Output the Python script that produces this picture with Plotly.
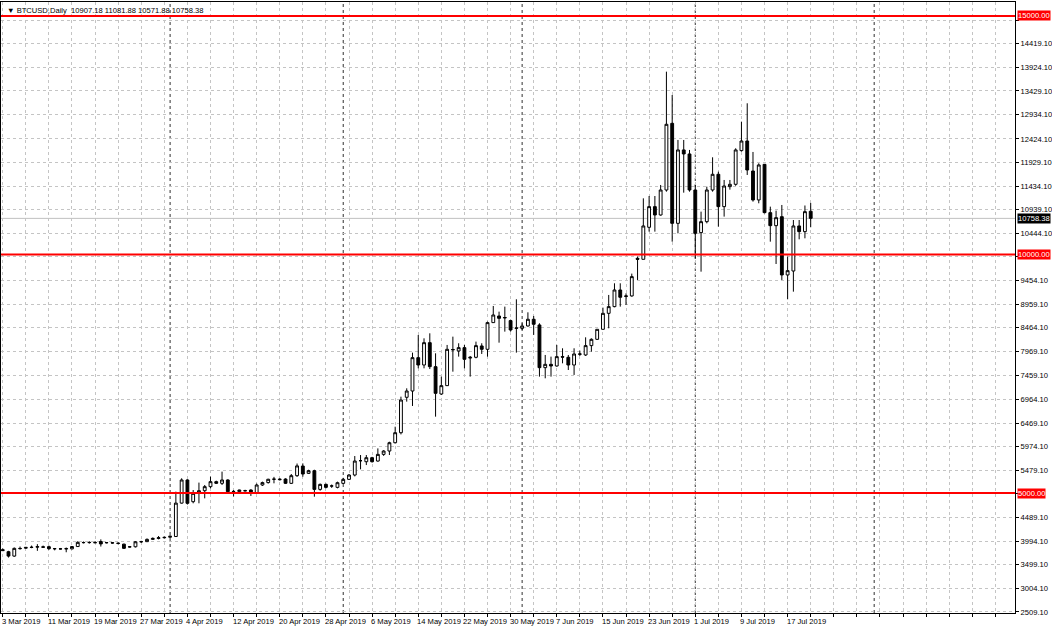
import plotly.graph_objects as go

opens = [3815,3772,3680,3835,3845,3860,3868,3874,3877,3836,3832,3830,3832,3880,3965,3962,3965,3985,3960,3960,3950,3930,3875,3875,3980,3982,4030,4050,4064,4075,
         4090,4790,5275,4820,4995,5050,5135,5240,5205,5275,5030,5030,5052,5065,4995,5170,5220,5290,5280,5295,5205,5365,5567,5414,5470,5078,5183,5148,5120,5204,
         5288,5379,5680,5658,5742,5672,5812,5882,6056,6266,7008,7140,7839,7685,8153,7650,7077,7252,8000,7979,8049,7830,7846,8084,8014,8573,8712,8670,8615,8454,
         8454,8503,8643,8524,7629,7699,7664,7860,7846,7685,7910,7895,8091,8223,8433,8768,8908,9257,9120,9132,9921,9900,10571,11004,10829,11353,12750,10654,12192,12108,
         11353,10459,10689,11353,11682,11004,11423,11472,12178,12380,11751,11144,11891,10878,10605,10794,9572,9655,10599,10480,10907.18]
highs = [3840,3790,3860,3880,3870,3900,3930,3900,3900,3850,3850,3860,3890,3990,3985,3990,3995,4030,3975,3975,3965,3940,3885,3995,4000,4050,4070,4100,4090,4110,
         5030,5310,5290,5065,5220,5170,5345,5260,5450,5290,5065,5070,5070,5080,5200,5240,5300,5340,5310,5310,5400,5620,5623,5490,5490,5200,5200,5180,5240,5320,
         5400,5777,5798,5798,5760,5937,5900,6077,6392,7021,7196,7944,8314,8244,8349,7930,7441,8105,8279,8140,8105,7874,8175,8140,8594,8922,8803,8908,8636,9062,
         8559,8789,8712,8559,7895,7860,8105,8035,7895,8035,7986,8265,8244,8433,8887,9153,9397,9397,9187,9600,9956,11178,11227,11227,11458,13833,13344,12401,12401,12192,
         11458,10899,11423,12038,11737,11563,11563,12227,12785,13170,12150,11912,11898,11004,10920,11039,9956,10724,10724,11028,11081.88]
lows = [3790,3650,3665,3815,3830,3845,3790,3850,3810,3800,3820,3760,3820,3870,3945,3940,3950,3880,3945,3940,3925,3830,3860,3860,3955,3975,4020,4030,4050,4060,
        4085,4780,4760,4786,4786,4890,5100,5190,5170,4995,4930,5010,5035,4940,4990,5150,5200,5205,5265,5190,5190,5340,5344,5400,4925,5050,5100,5110,5100,5190,
        5275,5350,5498,5588,5640,5658,5780,5798,6040,6230,6917,6826,7615,7615,7600,6602,7057,7245,7545,7860,7615,7441,7825,7916,7860,8573,8153,8384,8384,7944,
        8419,8489,8315,7441,7406,7441,7650,7720,7580,7476,7874,7874,7965,8210,8433,8454,8894,8908,8943,9117,9467,9900,10480,10480,10815,11318,10270,10445,11297,11318,
        9921,9641,10654,11318,10585,10795,11360,11441,12157,11668,11109,11074,10864,10270,9802,9467,9062,9222,10319,10340,10571.88]
closes = [3795,3680,3842,3840,3862,3865,3876,3866,3835,3834,3830,3836,3880,3968,3962,3966,3960,3935,3962,3955,3946,3842,3872,3980,3982,4030,4050,4064,4072,4095,
          4790,5275,4786,4995,5050,5135,5240,5205,5275,5030,5035,5065,5048,4995,5170,5220,5290,5292,5290,5205,5365,5570,5400,5470,5078,5183,5120,5150,5218,5288,
          5379,5672,5679,5742,5658,5812,5882,6056,6266,6951,7140,7839,7685,8153,7650,7091,7252,8014,8010,8049,7804,7846,8091,8014,8573,8733,8663,8680,8419,8460,
          8503,8643,8538,7629,7699,7664,7860,7850,7685,7916,7916,8091,8223,8433,8768,8908,9257,9104,9132,9537,9900,10599,11004,10829,11353,12730,10654,12192,12108,11353,
          10445,10689,11353,11682,11004,11437,11472,12192,12380,11772,11144,11877,10878,10605,10773,9572,9662,10599,10480,10899,10758.38]

x_idx = list(range(len(closes)))
label_idx = [0,8,16,24,32,40,48,56,64,72,80,88,96,104,112,120,128,136]
label_txt = ["3 Mar 2019","11 Mar 2019","19 Mar 2019","27 Mar 2019","4 Apr 2019","12 Apr 2019","20 Apr 2019",
             "28 Apr 2019","6 May 2019","14 May 2019","22 May 2019","30 May 2019","7 Jun 2019","15 Jun 2019",
             "23 Jun 2019","1 Jul 2019","9 Jul 2019","17 Jul 2019"]
month_start_idx = [29,59,90,120,151]
y_ticks = [2509.10,3004.10,3499.10,3994.10,4489.10,4984.10,5479.10,5974.10,6469.10,6964.10,7459.10,7969.10,8464.10,
           8959.10,9454.10,9949.10,10444.10,10939.10,11434.10,11929.10,12424.10,12934.10,13429.10,13924.10,14419.10,14914.10]
hidden_ticks = [4984.10, 9949.10, 14914.10]
levels = [15000, 10000, 5000]
last_price = 10758.38
header = "▼ BTCUSD,Daily  10907.18 11081.88 10571.88 10758.38"

FONT = "Liberation Sans"
FS = 7.6
fig = go.Figure(go.Candlestick(
    x=x_idx, open=opens, high=highs, low=lows, close=closes,
    increasing=dict(line=dict(color="black", width=1), fillcolor="white"),
    decreasing=dict(line=dict(color="black", width=1), fillcolor="black"),
    whiskerwidth=0, hoverinfo="skip"))

shapes = []
for m in month_start_idx:
    shapes.append(dict(type="line", xref="x", yref="paper", x0=m, x1=m, y0=0, y1=1,
                       line=dict(color="#303030", width=1, dash="dot"), layer="below"))
shapes.append(dict(type="line", xref="paper", yref="y", x0=0, x1=1, y0=last_price, y1=last_price,
                   line=dict(color="#c0c0c0", width=1), layer="below"))
for lv in levels:
    shapes.append(dict(type="line", xref="paper", yref="y", x0=0, x1=1, y0=lv, y1=lv,
                       line=dict(color="#ff0000", width=2)))

ann = []
for i, t in zip(label_idx, label_txt):
    ann.append(dict(x=i, y=0, xref="x", yref="paper", text=t, showarrow=False, xanchor="left",
                    yanchor="top", xshift=-3, yshift=-2, font=dict(family=FONT, size=FS, color="black")))
for lv in levels:
    ann.append(dict(x=1, y=lv, xref="paper", yref="y", text=f"{lv:.2f}", showarrow=False, xanchor="left",
                    yanchor="middle", xshift=2, bgcolor="#ff0000", borderpad=0,
                    font=dict(family=FONT, size=FS, color="white")))
ann.append(dict(x=1, y=last_price, xref="paper", yref="y", text=f"{last_price:.2f}", showarrow=False,
                xanchor="left", yanchor="middle", xshift=2, bgcolor="black", borderpad=0,
                font=dict(family=FONT, size=FS, color="white")))
ann.append(dict(x=0, y=1, xref="paper", yref="paper", text=header, showarrow=False, xanchor="left",
                yanchor="top", xshift=4, yshift=-2, font=dict(family=FONT, size=FS, color="black")))

fig.update_layout(
    width=1052, height=630, margin=dict(l=1, r=37, t=2, b=17),
    paper_bgcolor="white", plot_bgcolor="white", showlegend=False,
    shapes=shapes, annotations=ann,
    xaxis=dict(range=[-0.3, 175.4], rangeslider=dict(visible=False), tickmode="array",
               tickvals=list(range(0, 176, 4)), showticklabels=False, showgrid=True,
               gridcolor="#c4c4c4", griddash="3px,3px", gridwidth=1, zeroline=False,
               showline=True, linecolor="black", mirror=True, ticks="outside", ticklen=3, tickcolor="black"),
    yaxis=dict(range=[2487, 15293], side="right", tickmode="array", tickvals=y_ticks,
               ticktext=["" if v in hidden_ticks else f"{v:.2f}" for v in y_ticks], showgrid=True,
               gridcolor="#c4c4c4", griddash="3px,3px", zeroline=False, showline=True, linecolor="black",
               mirror=True, ticks="outside", ticklen=3, tickcolor="black", automargin=False,
               tickfont=dict(family=FONT, size=FS, color="black")),
)
fig.write_html("out.html", config={"displayModeBar": False},
               post_script="document.body.style.margin='0';document.body.style.overflow='hidden';")
